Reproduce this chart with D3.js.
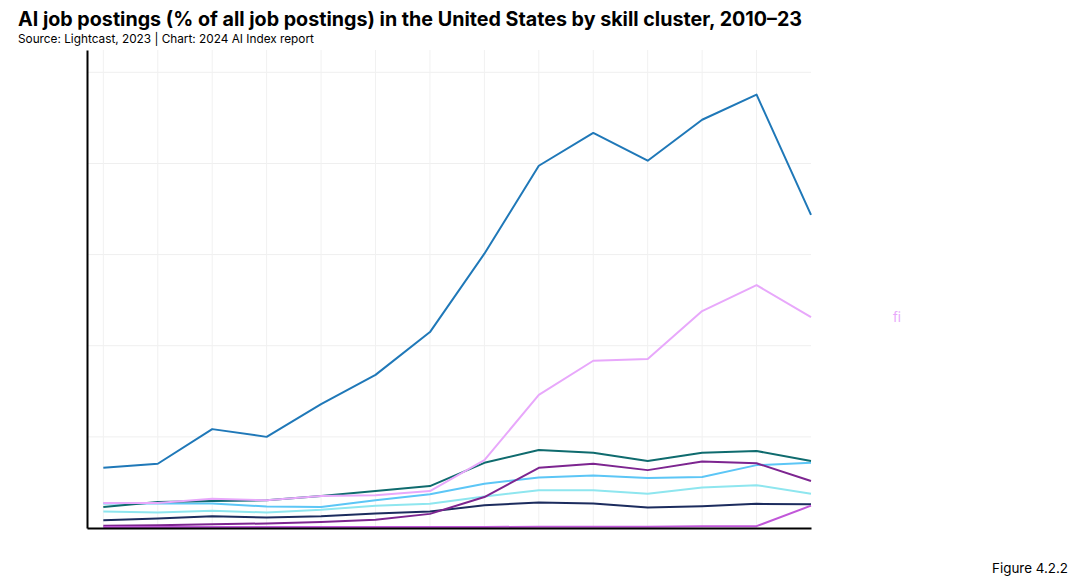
<!DOCTYPE html>
<html>
<head>
<meta charset="utf-8">
<script src="https://cdn.jsdelivr.net/npm/d3@7"></script>
<style>
  body { margin: 0; background: #fff; }
  svg { display: block; font-family: Inter, "Noto Sans", sans-serif; }
</style>
</head>
<body>
<svg id="chart" width="1077" height="585"></svg>
<script>
// years on the x axis
const years = [2010, 2011, 2012, 2013, 2014, 2015, 2016, 2017, 2018, 2019, 2020, 2021, 2022, 2023];

// % of all job postings
const machineLearning = [0.132, 0.141, 0.217, 0.200, 0.272, 0.336, 0.430, 0.602, 0.795, 0.867, 0.806, 0.896, 0.951, 0.687];
const artificialIntelligence = [0.055, 0.055, 0.064, 0.061, 0.070, 0.072, 0.081, 0.149, 0.292, 0.367, 0.371, 0.476, 0.533, 0.463];
const tealSeries = [0.046, 0.057, 0.059, 0.061, 0.070, 0.081, 0.092, 0.143, 0.171, 0.165, 0.147, 0.165, 0.169, 0.147];
const purpleSeries = [0.005, 0.006, 0.008, 0.010, 0.013, 0.018, 0.031, 0.068, 0.132, 0.141, 0.127, 0.146, 0.142, 0.103];
const lightBlueSeries = [0.054, 0.054, 0.054, 0.047, 0.046, 0.061, 0.074, 0.097, 0.111, 0.115, 0.110, 0.112, 0.138, 0.143];
const paleCyanSeries = [0.036, 0.034, 0.038, 0.034, 0.040, 0.049, 0.053, 0.069, 0.083, 0.083, 0.075, 0.089, 0.094, 0.075];
const navySeries = [0.017, 0.021, 0.026, 0.023, 0.026, 0.032, 0.036, 0.050, 0.056, 0.054, 0.045, 0.048, 0.053, 0.052];
const generativeAI = [0.002, 0.002, 0.002, 0.002, 0.002, 0.002, 0.002, 0.002, 0.003, 0.003, 0.003, 0.004, 0.004, 0.049];

const gridValues = [0.2, 0.4, 0.6, 0.8, 1.0];

const series = [
    { values: navySeries, color: "#1c2c5e" },
    { values: paleCyanSeries, color: "#8ee6ef" },
    { values: lightBlueSeries, color: "#5cc6f6" },
    { values: tealSeries, color: "#0f6b6e" },
    { values: purpleSeries, color: "#7d2590" },
    { values: generativeAI, color: "#c157d9" },
    { values: artificialIntelligence, color: "#e8a8fb" },
    { values: machineLearning, color: "#1f78b8" }
];

const svg = d3.select("#chart");

svg.append("text")
    .attr("x", 18)
    .attr("y", 26)
    .attr("font-size", "19.7px")
    .attr("font-weight", "bold")
    .attr("fill", "#000")
    .text("AI job postings (% of all job postings) in the United States by skill cluster, 2010–23");

svg.append("text")
    .attr("x", 18)
    .attr("y", 43)
    .attr("font-size", "11.8px")
    .attr("fill", "#000")
    .text("Source: Lightcast, 2023 | Chart: 2024 AI Index report");

svg.append("text")
    .attr("x", 1068)
    .attr("y", 573)
    .attr("text-anchor", "end")
    .attr("font-size", "13.4px")
    .attr("fill", "#000")
    .text("Figure 4.2.2");

let xScale = d3.scaleLinear().domain([2009.7, 2023]).range([87, 811]);
let yScale = d3.scaleLinear().domain([0, 1.049]).range([528, 50]);

// grid
svg.append("g")
    .selectAll("line")
    .data(gridValues)
    .enter().append("line")
    .attr("x1", 87)
    .attr("x2", 811)
    .attr("y1", d => yScale(d))
    .attr("y2", d => yScale(d))
    .attr("stroke", "#efefef")
    .attr("stroke-width", 1);

svg.append("g")
    .selectAll("line")
    .data(years.slice(0, -1))
    .enter().append("line")
    .attr("x1", d => xScale(d))
    .attr("x2", d => xScale(d))
    .attr("y1", yScale(1.049))
    .attr("y2", yScale(0))
    .attr("stroke", "#f1f1f1")
    .attr("stroke-width", 1);

let line = d3.line()
    .x((d, i) => xScale(years[i]))
    .y(d => yScale(d));

svg.append("g")
    .selectAll("path")
    .data(series)
    .enter().append("path")
    .attr("d", d => line(d.values))
    .attr("fill", "none")
    .attr("stroke", d => d.color)
    .attr("stroke-width", 2)
    .attr("stroke-linejoin", "round");

// axes, no tick labels in the reference
svg.append("g")
    .attr("transform", "translate(0,528)")
    .call(d3.axisBottom(xScale).tickValues([]).tickSizeOuter(0))
    .select(".domain")
    .attr("stroke", "#000")
    .attr("stroke-width", 2);

svg.append("g")
    .attr("transform", "translate(87,0)")
    .call(d3.axisLeft(yScale).tickValues([]).tickSizeOuter(0))
    .select(".domain")
    .attr("stroke", "#000")
    .attr("stroke-width", 2);

// the only label piece that shows in the picture
svg.append("text")
    .attr("x", 893)
    .attr("y", yScale(artificialIntelligence[13]) + 5)
    .attr("font-size", "13px")
    .attr("fill", "#e8a8fb")
    .text("fi");
</script>
</body>
</html>
